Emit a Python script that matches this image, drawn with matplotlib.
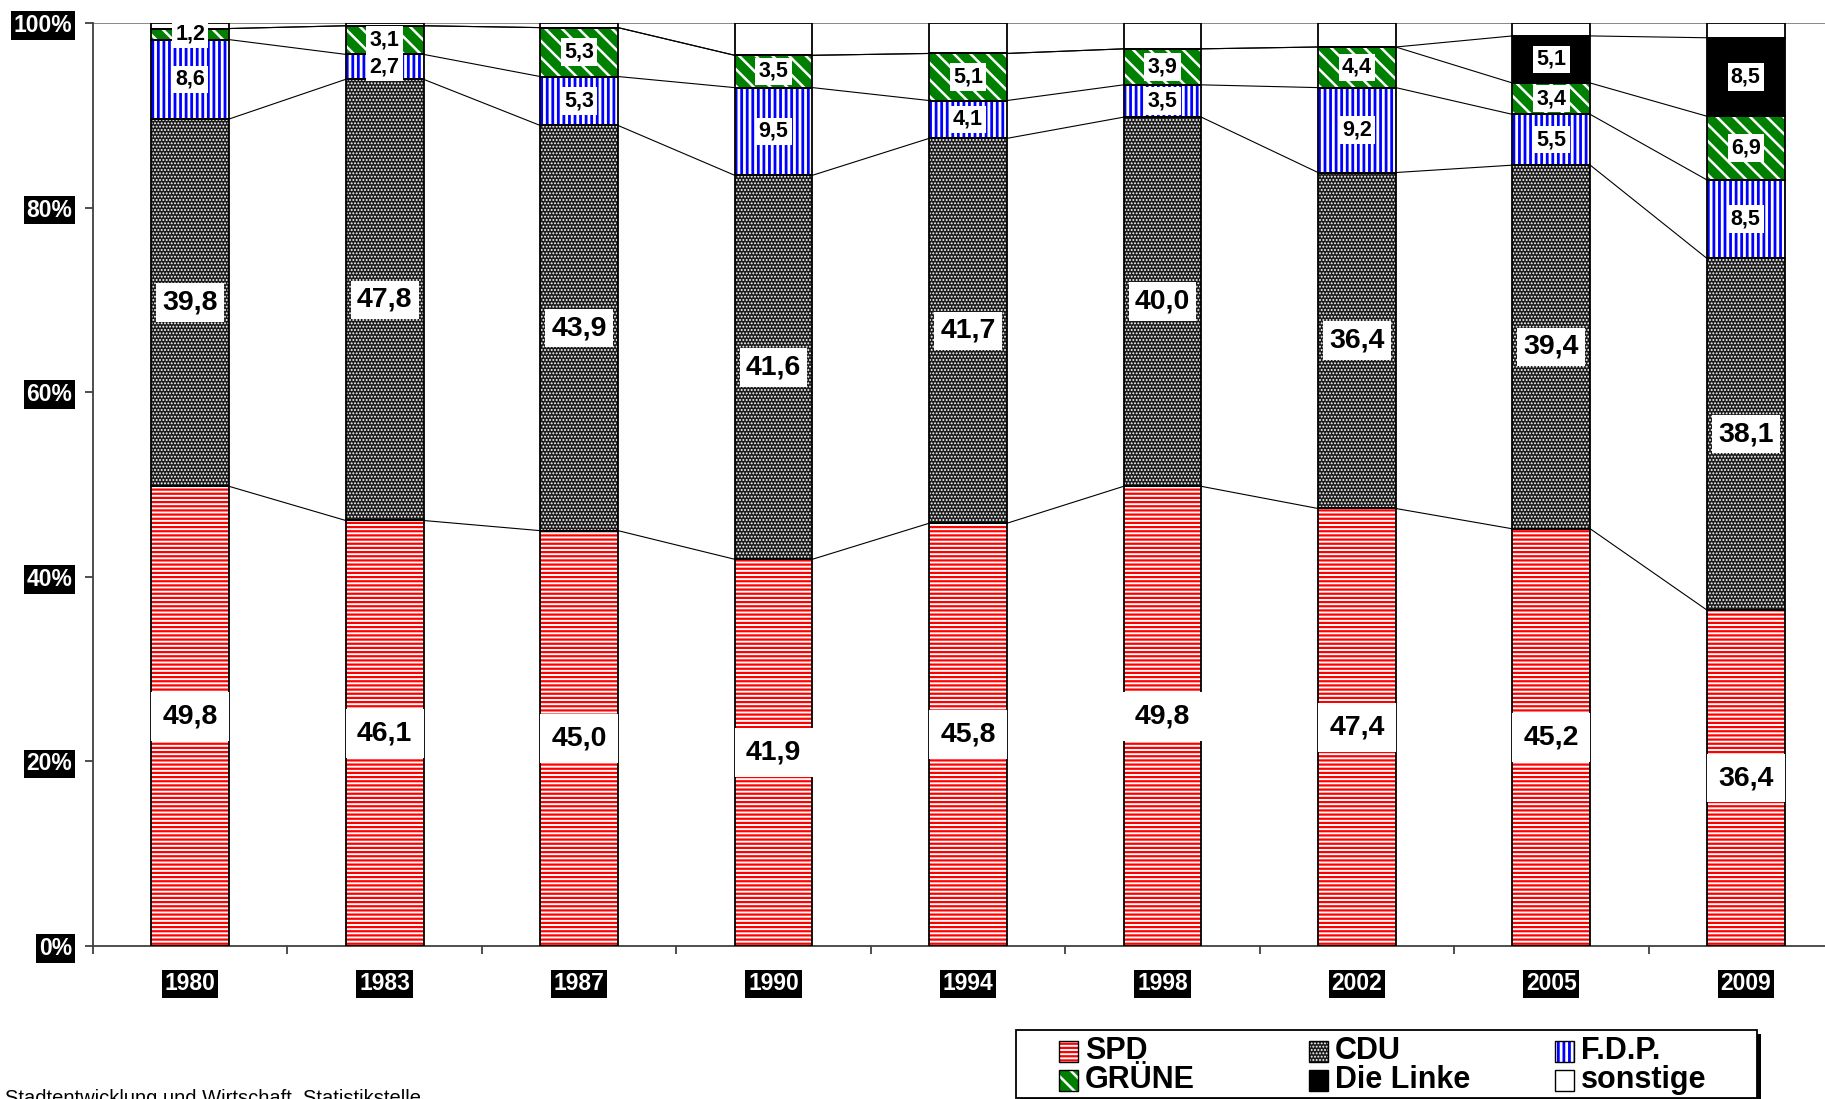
import matplotlib
matplotlib.use('Agg')
import matplotlib.pyplot as plt
from matplotlib.patches import Rectangle
from matplotlib import font_manager as fm
import numpy as np

plt.rcParams['font.family'] = ['Liberation Sans', 'DejaVu Sans']

# Wahlergebnisse in % (Anteile je Partei)
years = ['1980', '1983', '1987', '1990', '1994', '1998', '2002', '2005', '2009']
spd = [49.8, 46.1, 45.0, 41.9, 45.8, 49.8, 47.4, 45.2, 36.4]
cdu = [39.8, 47.8, 43.9, 41.6, 41.7, 40.0, 36.4, 39.4, 38.1]
fdp = [8.6, 2.7, 5.3, 9.5, 4.1, 3.5, 9.2, 5.5, 8.5]
gruene = [1.2, 3.1, 5.3, 3.5, 5.1, 3.9, 4.4, 3.4, 6.9]
linke = [0, 0, 0, 0, 0, 0, 0, 5.1, 8.5]
sonstige = [0.6, 0.3, 0.5, 3.5, 3.3, 2.8, 2.6, 1.4, 1.6]
party_names = ['SPD', 'CDU', 'F.D.P.', 'GRÜNE', 'Die Linke', 'sonstige']
source_text = 'Stadtentwicklung und Wirtschaft, Statistikstelle'

# face colour, hatch colour, hatch, hatch linewidth
styles = [
    ('white', '#ff0000', '----', 1.6),
    ('#1c1c1c', 'white', '.....', 0.9),
    ('white', '#0000ff', '|||', 2.0),
    ('#008000', 'white', '\\\\', 1.8),
    ('black', 'black', None, 1.0),
    ('white', 'white', None, 1.0),
]


def has_font(name):
    try:
        fm.findfont(fm.FontProperties(family=name), fallback_to_default=False)
        return True
    except ValueError:
        return False


legend_family = ['Liberation Sans Narrow', 'Liberation Sans'] if has_font('Liberation Sans Narrow') else ['Liberation Sans']

W, H = 1825, 1099
fig = plt.figure(figsize=(W / 100, H / 100), dpi=100)
ax = fig.add_axes([93 / W, 1 - 946 / H, 1750 / W, 923 / H])

x = np.arange(len(years))
bw = 0.4
series = [spd, cdu, fdp, gruene, linke, sonstige]


def set_hlw(patch, lw):
    if hasattr(patch, 'set_hatch_linewidth'):
        patch.set_hatch_linewidth(lw)


bottom = np.zeros(len(years))
tops = []
for vals, (face, hcol, hatch, hlw) in zip(series, styles):
    vals = np.array(vals)
    with plt.rc_context({'hatch.linewidth': hlw}):
        bars = ax.bar(x, vals, bw, bottom=bottom, color=face, edgecolor=hcol,
                      hatch=hatch, linewidth=0, zorder=2)
    for p in bars:
        set_hlw(p, hlw)
    ax.bar(x, vals, bw, bottom=bottom, fill=False, edgecolor='black', linewidth=1.3, zorder=3)
    bottom = bottom + vals
    tops.append(bottom.copy())

# series lines between the bars
for top in tops[:5]:
    for i in range(len(years) - 1):
        ax.plot([x[i] + bw / 2, x[i + 1] - bw / 2], [top[i], top[i + 1]],
                color='black', linewidth=0.8, zorder=1)

# value labels
label_size = [20.5, 20.5, 15.5, 15.5, 15.5]
label_pad = [0.4, 0.22, 0.15, 0.15, 0.15]
bottom = np.zeros(len(years))
for k, vals in enumerate(series[:5]):
    for i, v in enumerate(vals):
        if v > 0:
            ax.text(x[i], bottom[i] + v / 2, f'{v:.1f}'.replace('.', ','),
                    ha='center', va='center', fontsize=label_size[k],
                    fontweight='bold', color='black', zorder=5,
                    bbox=dict(facecolor='white', edgecolor='none',
                              boxstyle=f'square,pad={label_pad[k]}'))
    bottom = bottom + np.array(vals)

ax.axhline(100, color='#7f7f7f', linewidth=1.3, zorder=1)

ax.set_xlim(-0.5, 8.5)
ax.set_ylim(0, 100)
for s in ['top', 'right']:
    ax.spines[s].set_visible(False)
for s in ['left', 'bottom']:
    ax.spines[s].set_color('#404040')
    ax.spines[s].set_linewidth(1.3)

ax.set_yticks([0, 20, 40, 60, 80, 100])
ax.set_yticklabels([f'{v}%' for v in [0, 20, 40, 60, 80, 100]])
ax.tick_params(axis='y', direction='out', length=6, width=1.3, color='#404040', pad=9, labelsize=16.5)
ax.set_xticks(x)
ax.set_xticklabels(years)
ax.set_xticks(np.arange(-0.5, 9, 1), minor=True)
ax.tick_params(axis='x', which='major', length=0, pad=19, labelsize=16.5)
ax.tick_params(axis='x', which='minor', direction='out', length=6, width=1.3, color='#404040')
for t in ax.get_yticklabels() + ax.get_xticklabels():
    t.set_fontweight('bold')
    t.set_color('white')
    t.set_bbox(dict(facecolor='black', edgecolor='none', boxstyle='square,pad=0.12'))


def fx(px):
    return px / W


def fy(py):
    return 1 - py / H


# legend box with shadow
box_x0, box_x1, box_y0, box_y1 = 1016, 1757, 1030, 1098
fig.add_artist(Rectangle((fx(box_x0 + 4), fy(box_y1 + 4)), fx(box_x1 - box_x0), (box_y1 - box_y0) / H,
                         transform=fig.transFigure, facecolor='black', edgecolor='none', zorder=1))
fig.add_artist(Rectangle((fx(box_x0), fy(box_y1)), fx(box_x1 - box_x0), (box_y1 - box_y0) / H,
                         transform=fig.transFigure, facecolor='white', edgecolor='black',
                         linewidth=1.3, zorder=2))

col_x = [1059, 1309, 1555]
row_y = [1051, 1080]
mw, mh = 19, 21
for k, name in enumerate(party_names):
    r, c = divmod(k, 3)
    mx, my = col_x[c], row_y[r]
    face, hcol, hatch, hlw = styles[k]
    with plt.rc_context({'hatch.linewidth': hlw}):
        m = Rectangle((fx(mx), fy(my + mh / 2)), fx(mw), mh / H, transform=fig.transFigure,
                      facecolor=face, edgecolor=hcol, hatch=hatch, linewidth=0, zorder=3)
    set_hlw(m, hlw)
    fig.add_artist(m)
    fig.add_artist(Rectangle((fx(mx), fy(my + mh / 2)), fx(mw), mh / H, transform=fig.transFigure,
                             fill=False, edgecolor='black', linewidth=1.0, zorder=4))
    fig.text(fx(mx + 26), fy(my), name, ha='left', va='center', fontsize=22,
             fontweight='bold', family=legend_family, zorder=4)

fig.text(fx(5), fy(1089), source_text, ha='left', va='top', fontsize=14.5, color='black')

fig.savefig('out.png', dpi=100, facecolor='white')
